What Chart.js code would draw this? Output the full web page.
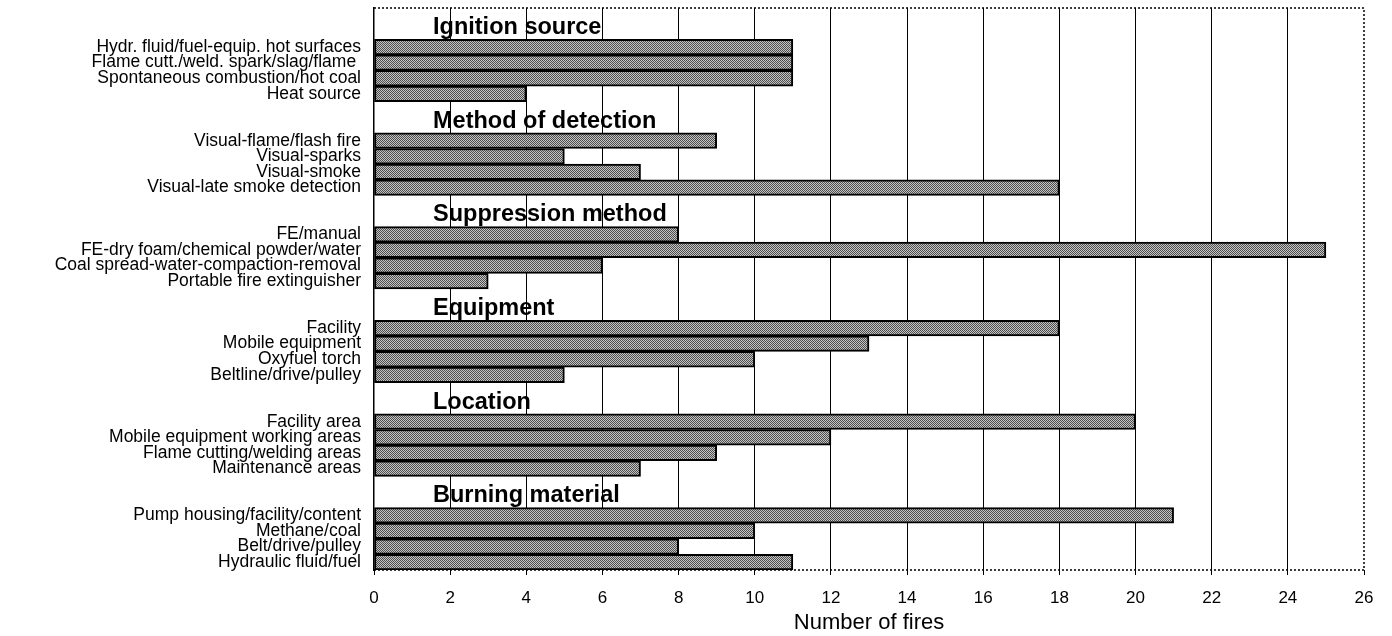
<!DOCTYPE html>
<html>
<head>
<meta charset="utf-8">
<script src="https://cdn.jsdelivr.net/npm/chart.js@4"></script>
<style>
  html, body { margin: 0; padding: 0; background: #fff; }
</style>
</head>
<body>
<canvas id="chart" width="1392" height="636"></canvas>
<script>
// groups, their items (top to bottom) and number of fires per item
const groups = ['Ignition source', 'Method of detection', 'Suppression method', 'Equipment', 'Location', 'Burning material'];
const ignitionItems = ['Hydr. fluid/fuel-equip. hot surfaces', 'Flame cutt./weld. spark/slag/flame ', 'Spontaneous combustion/hot coal', 'Heat source'];
const detectionItems = ['Visual-flame/flash fire', 'Visual-sparks', 'Visual-smoke', 'Visual-late smoke detection'];
const suppressionItems = ['FE/manual', 'FE-dry foam/chemical powder/water', 'Coal spread-water-compaction-removal', 'Portable fire extinguisher'];
const equipmentItems = ['Facility', 'Mobile equipment', 'Oxyfuel torch', 'Beltline/drive/pulley'];
const locationItems = ['Facility area', 'Mobile equipment working areas', 'Flame cutting/welding areas', 'Maintenance areas'];
const materialItems = ['Pump housing/facility/content', 'Methane/coal', 'Belt/drive/pulley', 'Hydraulic fluid/fuel'];

const ignitionFires = [11, 11, 11, 4];
const detectionFires = [9, 5, 7, 18];
const suppressionFires = [8, 25, 6, 3];
const equipmentFires = [18, 13, 10, 5];
const locationFires = [20, 12, 9, 7];
const materialFires = [21, 10, 8, 11];

const xMin = 0, xMax = 26, xStep = 2;

const items = [ignitionItems, detectionItems, suppressionItems, equipmentItems, locationItems, materialItems];
const fires = [ignitionFires, detectionFires, suppressionFires, equipmentFires, locationFires, materialFires];

// two empty rows above each group hold the group heading
const labels = [];
const values = [];
items.forEach((list, g) => {
  labels.push('', '');
  values.push(null, null);
  list.forEach((name, i) => {
    labels.push(name);
    values.push(fires[g][i]);
  });
});

const canvas = document.getElementById('chart');
const ctx = canvas.getContext('2d');

function dither() {
  const c = document.createElement('canvas');
  c.width = 2; c.height = 2;
  const g = c.getContext('2d');
  g.fillStyle = '#c4c4c4';
  g.fillRect(0, 0, 2, 2);
  g.fillStyle = '#4e4e4e';
  g.fillRect(0, 0, 1, 1);
  g.fillRect(1, 1, 1, 1);
  return ctx.createPattern(c, 'repeat');
}

const FONT = '"Liberation Sans", Arial, Helvetica, sans-serif';

const groupHeaders = {
  id: 'groupHeaders',
  afterDatasetsDraw(chart) {
    const { ctx, chartArea, scales: { x, y } } = chart;
    ctx.save();
    ctx.font = 'bold 23.5px ' + FONT;
    ctx.fillStyle = '#000';
    ctx.textAlign = 'left';
    ctx.textBaseline = 'middle';
    groups.forEach((name, i) => {
      const row = i * 6;
      const yy = (y.getPixelForValue(row) + y.getPixelForValue(row + 1)) / 2 + 4;
      ctx.fillText(name, x.getPixelForValue(1.55), yy);
    });
    // dotted frame on top, right and bottom
    ctx.strokeStyle = '#000';
    ctx.lineWidth = 1.5;
    ctx.setLineDash([2, 2]);
    ctx.beginPath();
    ctx.moveTo(chartArea.left, chartArea.top);
    ctx.lineTo(chartArea.right, chartArea.top);
    ctx.lineTo(chartArea.right, chartArea.bottom);
    ctx.lineTo(chartArea.left, chartArea.bottom);
    ctx.stroke();
    ctx.restore();
  }
};

new Chart(ctx, {
  type: 'bar',
  data: {
    labels: labels,
    datasets: [{
      data: values,
      backgroundColor: dither(),
      borderColor: '#000',
      borderWidth: 2,
      borderSkipped: false,
      barPercentage: 1,
      categoryPercentage: 1
    }]
  },
  options: {
    indexAxis: 'y',
    responsive: false,
    animation: false,
    layout: { padding: { top: 8, right: 28, left: 0, bottom: 0 } },
    plugins: {
      legend: { display: false },
      tooltip: { enabled: false }
    },
    scales: {
      x: {
        min: xMin,
        max: xMax,
        afterFit: (s) => { s.height = 66; s.paddingLeft = 0; s.paddingRight = 0; },
        ticks: {
          stepSize: xStep,
          color: '#000',
          padding: 13,
          font: { family: FONT, size: 17 }
        },
        grid: {
          color: (c) => (c.tick && (c.tick.value === xMin || c.tick.value === xMax)) ? 'rgba(0,0,0,0)' : '#000',
          lineWidth: 1,
          tickColor: '#000',
          tickLength: 5
        },
        border: { display: false },
        title: {
          display: true,
          text: 'Number of fires',
          color: '#000',
          padding: { top: 0, bottom: 0 },
          font: { family: FONT, size: 22 }
        }
      },
      y: {
        afterFit: (s) => { s.width = 374; s.paddingTop = 0; s.paddingBottom = 0; },
        ticks: {
          autoSkip: false,
          color: '#000',
          padding: 13,
          font: { family: FONT, size: 17.5 }
        },
        grid: { display: false, drawTicks: false },
        border: { display: true, color: '#000', width: 1.5 }
      }
    }
  },
  plugins: [groupHeaders]
});
</script>
</body>
</html>
